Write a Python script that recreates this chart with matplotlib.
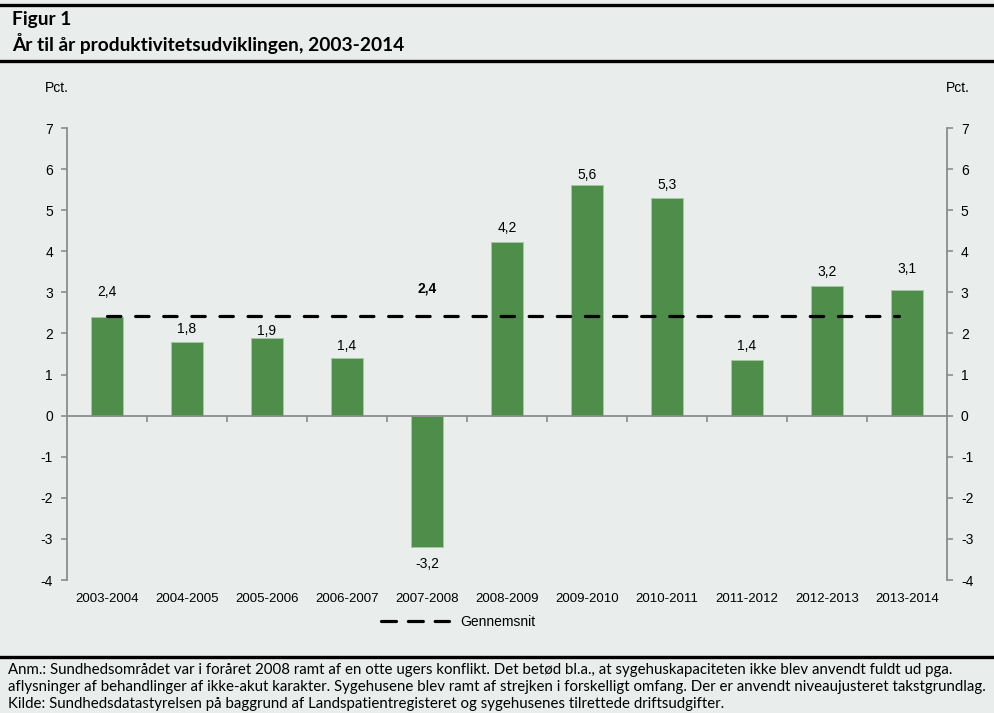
import matplotlib
matplotlib.use("Agg")
import matplotlib.pyplot as plt
from matplotlib.lines import Line2D
from matplotlib.transforms import blended_transform_factory

categories = ["2003-2004", "2004-2005", "2005-2006", "2006-2007", "2007-2008",
              "2008-2009", "2009-2010", "2010-2011", "2011-2012", "2012-2013", "2013-2014"]
values = [2.4, 1.8, 1.9, 1.4, -3.2, 4.23, 5.62, 5.3, 1.36, 3.15, 3.06]
value_labels = ["2,4", "1,8", "1,9", "1,4", "-3,2", "4,2", "5,6", "5,3", "1,4", "3,2", "3,1"]
average = 2.43
average_label = "2,4"
yticks = [-4, -3, -2, -1, 0, 1, 2, 3, 4, 5, 6, 7]

title1 = "Figur 1"
title2 = "År til år produktivitetsudviklingen, 2003-2014"
note_lines = [
    "Anm.: Sundhedsområdet var i foråret 2008 ramt af en otte ugers konflikt. Det betød bl.a., at sygehuskapaciteten ikke blev anvendt fuldt ud pga.",
    "aflysninger af behandlinger af ikke-akut karakter. Sygehusene blev ramt af strejken i forskelligt omfang. Der er anvendt niveaujusteret takstgrundlag.",
    "Kilde: Sundhedsdatastyrelsen på baggrund af Landspatientregisteret og sygehusenes tilrettede driftsudgifter.",
]

BG = "#E9EEEC"
GREEN = "#4E8D4A"
AXCOL = "#8C8C8C"
W, H = 995, 713

fig = plt.figure(figsize=(W / 100, H / 100), dpi=100, facecolor=BG)
ax = fig.add_axes([67 / W, 1 - 580 / H, (947 - 67) / W, (580 - 128) / H])
ax.set_facecolor(BG)

x = list(range(len(categories)))
ax.bar(x, values, width=0.4, color=GREEN, edgecolor="#A3C8A0", linewidth=0.7, zorder=2)
ax.set_xlim(-0.5, len(categories) - 0.5)
ax.set_ylim(-4, 7)

# average line
ax.plot([0, len(categories) - 1.1], [average, average], color="black", lw=2.3,
        dashes=(4.2, 4.6), solid_capstyle="round", dash_capstyle="round", zorder=3)
ax.annotate(average_label, (4, average), xytext=(0, 20), textcoords="offset points",
            ha="center", va="center", fontsize=10, fontweight="bold",
            family="Liberation Sans")

# value labels
label_offsets = [13, 4, 0, 4, -7, 5, 2, 4, 5, 5, 10]
for xi, v, lab, off in zip(x, values, value_labels, label_offsets):
    ax.annotate(lab, (xi, v), xytext=(0, off), textcoords="offset points",
                ha="center", va="bottom" if v >= 0 else "top", fontsize=10,
                family="Liberation Sans")

ax.spines["top"].set_visible(False)
ax.spines["bottom"].set_position(("data", 0))
for s in ["left", "right", "bottom"]:
    ax.spines[s].set_color(AXCOL)
    ax.spines[s].set_linewidth(1.3)

ax.set_yticks(yticks)
ax.set_yticklabels([str(t) for t in yticks], fontsize=10, family="Liberation Sans")
ax.tick_params(axis="y", which="both", direction="out", length=4, width=1.2, color=AXCOL,
               left=True, right=True, labelleft=True, labelright=True, pad=6)
ax.set_xticks([i + 0.5 for i in range(len(categories) - 1)])
ax.set_xticklabels([])
ax.tick_params(axis="x", direction="out", length=4, width=1.2, color=AXCOL)

tr = blended_transform_factory(ax.transData, ax.transAxes)
for xi, c in zip(x, categories):
    ax.text(xi, -0.042, c, transform=tr, ha="center", va="center", fontsize=9.5,
            family="Liberation Sans")

fig.text(57 / W, 1 - 88 / H, "Pct.", ha="center", va="center", fontsize=10, family="Liberation Sans")
fig.text(958 / W, 1 - 88 / H, "Pct.", ha="center", va="center", fontsize=10, family="Liberation Sans")

# legend
handle = Line2D([], [], color="black", lw=2.3, dashes=(4.7, 3.7), dash_capstyle="round")
fig.legend([handle], ["Gennemsnit"], loc="center", bbox_to_anchor=(458 / W, 1 - 622 / H),
           frameon=False, handlelength=4.9, handletextpad=0.8,
           prop={"family": "Liberation Sans", "size": 10})

# header / footer lines
for yy in [5, 60.5, 656.5]:
    fig.add_artist(Line2D([0, 1], [1 - yy / H, 1 - yy / H], color="black", lw=2.4,
                          transform=fig.transFigure))

fig.text(12 / W, 1 - 19 / H, title1, ha="left", va="center", fontsize=13.8,
         fontweight="bold", family="Lato")
fig.text(12 / W, 1 - 44 / H, title2, ha="left", va="center", fontsize=13.8,
         fontweight="bold", family="Lato")
for i, line in enumerate(note_lines):
    fig.text(8 / W, 1 - (670 + i * 17) / H, line, ha="left", va="center", fontsize=10.8,
             family="Lato")

fig.savefig("out.png", dpi=100, facecolor=BG)
